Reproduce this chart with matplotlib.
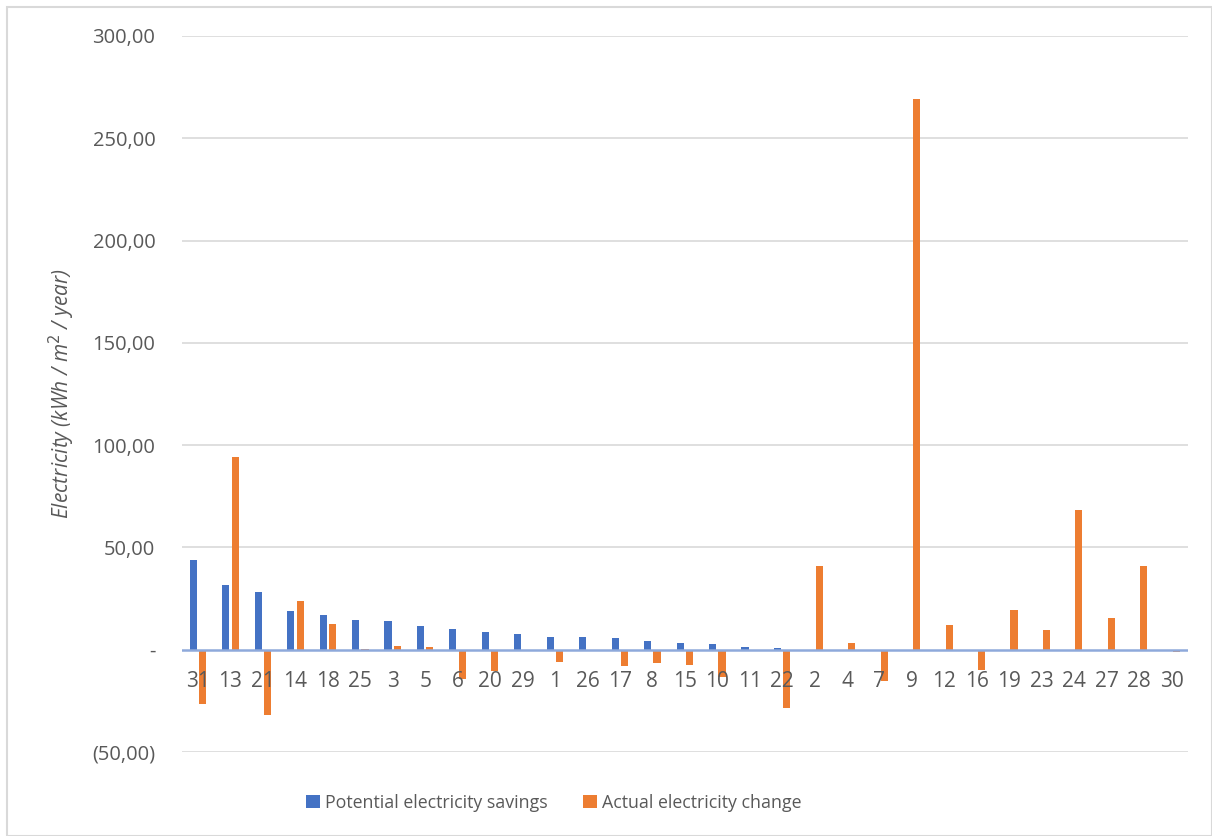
import numpy as np
import matplotlib.pyplot as plt
from matplotlib.ticker import FuncFormatter, MultipleLocator
from matplotlib.patches import Rectangle

plt.rcParams['font.family'] = ['Open Sans', 'DejaVu Sans']

# buildings sorted by potential savings
buildings = ['31', '13', '21', '14', '18', '25', '3', '5', '6', '20', '29', '1', '26', '17', '8',
             '15', '10', '11', '22', '2', '4', '7', '9', '12', '16', '19', '23', '24', '27', '28', '30']
potential = [43.8, 31.6, 28.1, 19.0, 16.9, 14.6, 13.8, 11.7, 10.1, 8.6, 7.9, 6.3, 6.2, 5.7, 4.2,
             3.4, 2.8, 1.3, 0.6, 0, 0, 0, 0, 0, 0, 0, 0, 0, 0, 0, 0]
actual = [-26.4, 94.0, -32.0, 23.9, 12.8, 0.2, 1.9, 1.5, -14.1, -10.5, -0.5, -5.8, 0, -7.8, -6.5,
          -7.3, -13.5, -0.5, -28.7, 40.9, 3.2, -15.3, 269.0, 12.2, -9.9, 19.5, 9.4, 68.4, 15.6, 40.9, -1.0]

blue = '#4472C4'
orange = '#ED7D31'
grey = '#595959'

fig = plt.figure(figsize=(12.12, 8.36), dpi=100)
ax = fig.add_axes([0.150, 0.1005, 0.830, 0.8565])

x = np.arange(len(buildings))
w = 0.22
ax.bar(x - 0.145, potential, w, color=blue, label='Potential electricity savings', zorder=1)
ax.bar(x + 0.145, actual, w, color=orange, label='Actual electricity change', zorder=1)

ax.set_xlim(-0.5, len(buildings) - 0.5)
ax.set_ylim(-50, 300)
ax.yaxis.set_major_locator(MultipleLocator(50))


def fmt(v, pos):
    if abs(v) < 1e-9:
        return '-'
    s = f'{abs(v):.2f}'.replace('.', ',')
    return f'({s})' if v < 0 else s


ax.yaxis.set_major_formatter(FuncFormatter(fmt))

# gridlines behind the bars, tick labels in front
for t in np.arange(-50, 301, 50):
    if t != 0:
        ax.axhline(t, color='#D9D9D9', linewidth=1.2, zorder=0)
ax.set_axisbelow(False)
ax.axhline(0, color='#8EA9DB', linewidth=1.8, zorder=4)

for s in ['top', 'right', 'left', 'bottom']:
    ax.spines[s].set_visible(False)
ax.spines['bottom'].set_position(('data', 0))

ax.set_xticks(x)
ax.set_xticklabels(buildings)
ax.tick_params(axis='x', length=0, pad=15, labelsize=15, labelcolor=grey)
ax.tick_params(axis='y', length=0, pad=19, labelsize=14.5, labelcolor=grey)

ax.set_ylabel('Electricity (kWh / m$^2$ / year)', fontsize=15, style='italic', color=grey)
ax.yaxis.set_label_coords(-0.104, 0.5)

fig.legend(loc='center', bbox_to_anchor=(0.457, 0.0395), ncol=2, frameon=False,
           fontsize=12.8, labelcolor=grey, handlelength=0.75, handleheight=0.75,
           handletextpad=0.3, columnspacing=2.0)

# chart border
fig.patches.append(Rectangle((7 / 1212, 0), 1 - 7 / 1212, 1 - 7 / 836, transform=fig.transFigure,
                             fill=False, edgecolor='#D9D9D9', linewidth=1.5))

fig.savefig('out.png', dpi=100)
